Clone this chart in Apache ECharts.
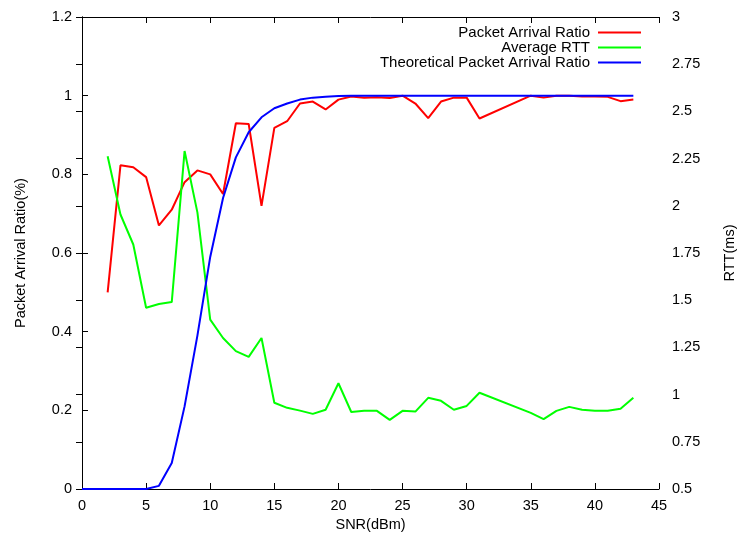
<!DOCTYPE html>
<html>
<head>
<meta charset="utf-8">
<script src="https://cdn.jsdelivr.net/npm/echarts@6/dist/echarts.min.js"></script>
<style>
  html, body { margin: 0; padding: 0; background: #fff; }
  #chart { width: 740px; height: 533px; }
</style>
</head>
<body>
<div id="chart"></div>
<script>
// measured points (SNR in dBm)
const snr = [2, 3, 4, 5, 6, 7, 8, 9, 10, 11, 12, 13, 14, 15, 16, 17, 18, 19, 20, 21, 22,
  23, 24, 25, 26, 27, 28, 29, 30, 31, 35, 36, 37, 38, 39, 40, 41, 42, 43]
const arrivalRatio = [0.50, 0.823, 0.818, 0.793, 0.67, 0.71, 0.78, 0.81, 0.80, 0.75, 0.93, 0.928,
  0.72, 0.918, 0.935, 0.98, 0.985, 0.965, 0.99, 0.998, 0.995, 0.996, 0.994, 1.0, 0.98, 0.943,
  0.985, 0.995, 0.995, 0.942, 1.0, 0.995, 1.0, 1.0, 0.998, 0.998, 0.997, 0.986, 0.99]
const avgRtt = [2.262, 1.954, 1.795, 1.46, 1.48, 1.49, 2.29, 1.965, 1.397, 1.30, 1.23, 1.20,
  1.30, 0.957, 0.93, 0.915, 0.898, 0.92, 1.06, 0.908, 0.914, 0.914, 0.866, 0.914, 0.91, 0.983,
  0.967, 0.92, 0.94, 1.01, 0.903, 0.87, 0.914, 0.935, 0.92, 0.914, 0.914, 0.925, 0.983]

// theoretical curve
const snrTheory = [0, 1, 2, 3, 4, 5, 6, 7, 8, 9, 10, 11, 12, 13, 14, 15, 16, 17, 18, 19, 20,
  21, 22, 23, 24, 25, 26, 27, 28, 29, 30, 31, 32, 33, 34, 35, 36, 37, 38, 39, 40, 41, 42, 43]
const theoryRatio = [0, 0, 0, 0, 0, 0, 0.008, 0.066, 0.21, 0.39, 0.59, 0.74, 0.843, 0.907, 0.945,
  0.968, 0.98, 0.99, 0.995, 0.997, 0.999, 1, 1, 1, 1, 1, 1, 1, 1, 1, 1, 1, 1, 1, 1, 1, 1, 1, 1,
  1, 1, 1, 1, 1]

const xTicks = [0, 5, 10, 15, 20, 25, 30, 35, 40, 45]
const leftTicks = [0, 0.2, 0.4, 0.6, 0.8, 1, 1.2]
const rightTicks = [0.5, 0.75, 1, 1.25, 1.5, 1.75, 2, 2.25, 2.5, 2.75, 3]

const font = 'Liberation Sans, Arial, sans-serif'
const pair = (xs, ys) => xs.map((x, i) => [x, ys[i]])

const ec = echarts.init(document.getElementById('chart'))

const axisText = { color: '#000', fontSize: 14.5, fontFamily: font }
const tickStyle = { show: true, inside: true, length: 6, lineStyle: { color: '#000', width: 1 } }
const lineStyle = { color: '#000', width: 1 }

// one legend per row so the icons line up on the right
function legendItem (name, top) {
  return {
    data: [name],
    right: 99,
    top,
    padding: 0,
    align: 'right',
    icon: 'rect',
    itemWidth: 43,
    itemHeight: 2,
    itemGap: 0,
    selectedMode: false,
    textStyle: { color: '#000', fontSize: 15, fontFamily: font, padding: [0, 3, 0, 0] }
  }
}

ec.setOption({
  animation: false,
  grid: { left: 82, right: 81, top: 17, bottom: 44, outerBoundsMode: 'none' },
  legend: [
    legendItem('Packet Arrival Ratio', 25),
    legendItem('Average RTT', 40),
    legendItem('Theoretical Packet Arrival Ratio', 55)
  ],
  xAxis: [
    {
      type: 'value',
      min: xTicks[0],
      max: xTicks[xTicks.length - 1],
      interval: 5,
      name: 'SNR(dBm)',
      nameLocation: 'middle',
      nameGap: 28,
      nameTextStyle: axisText,
      axisLine: { show: true, lineStyle },
      axisTick: tickStyle,
      axisLabel: { ...axisText, margin: 9 },
      splitLine: { show: false }
    },
    {
      type: 'value',
      position: 'top',
      min: xTicks[0],
      max: xTicks[xTicks.length - 1],
      interval: 5,
      axisLine: { show: true, lineStyle },
      axisTick: tickStyle,
      axisLabel: { show: false },
      splitLine: { show: false }
    }
  ],
  yAxis: [
    {
      type: 'value',
      min: leftTicks[0],
      max: leftTicks[leftTicks.length - 1],
      interval: 0.2,
      name: 'Packet Arrival Ratio(%)',
      nameLocation: 'middle',
      nameGap: 54,
      nameTextStyle: axisText,
      axisLine: { show: true, lineStyle },
      axisTick: tickStyle,
      axisLabel: { ...axisText, margin: 10, formatter: v => String(Math.round(v * 10) / 10) },
      splitLine: { show: false }
    },
    {
      type: 'value',
      position: 'right',
      min: rightTicks[0],
      max: rightTicks[rightTicks.length - 1],
      interval: 0.25,
      name: 'RTT(ms)',
      nameLocation: 'middle',
      nameGap: 63,
      nameRotate: 90,
      nameTextStyle: axisText,
      axisLine: { show: true, lineStyle },
      axisTick: tickStyle,
      axisLabel: { ...axisText, margin: 13, formatter: v => String(v) },
      splitLine: { show: false }
    }
  ],
  series: [
    {
      name: 'Packet Arrival Ratio',
      type: 'line',
      yAxisIndex: 0,
      data: pair(snr, arrivalRatio),
      showSymbol: false,
      symbol: 'none',
      color: '#ff0000',
      lineStyle: { color: '#ff0000', width: 2 },
      z: 3
    },
    {
      name: 'Average RTT',
      type: 'line',
      yAxisIndex: 1,
      data: pair(snr, avgRtt),
      showSymbol: false,
      symbol: 'none',
      color: '#00ff00',
      lineStyle: { color: '#00ff00', width: 2 },
      z: 4
    },
    {
      name: 'Theoretical Packet Arrival Ratio',
      type: 'line',
      yAxisIndex: 0,
      data: pair(snrTheory, theoryRatio),
      showSymbol: false,
      symbol: 'none',
      color: '#0000ff',
      lineStyle: { color: '#0000ff', width: 2 },
      z: 5
    }
  ]
})
</script>
</body>
</html>
